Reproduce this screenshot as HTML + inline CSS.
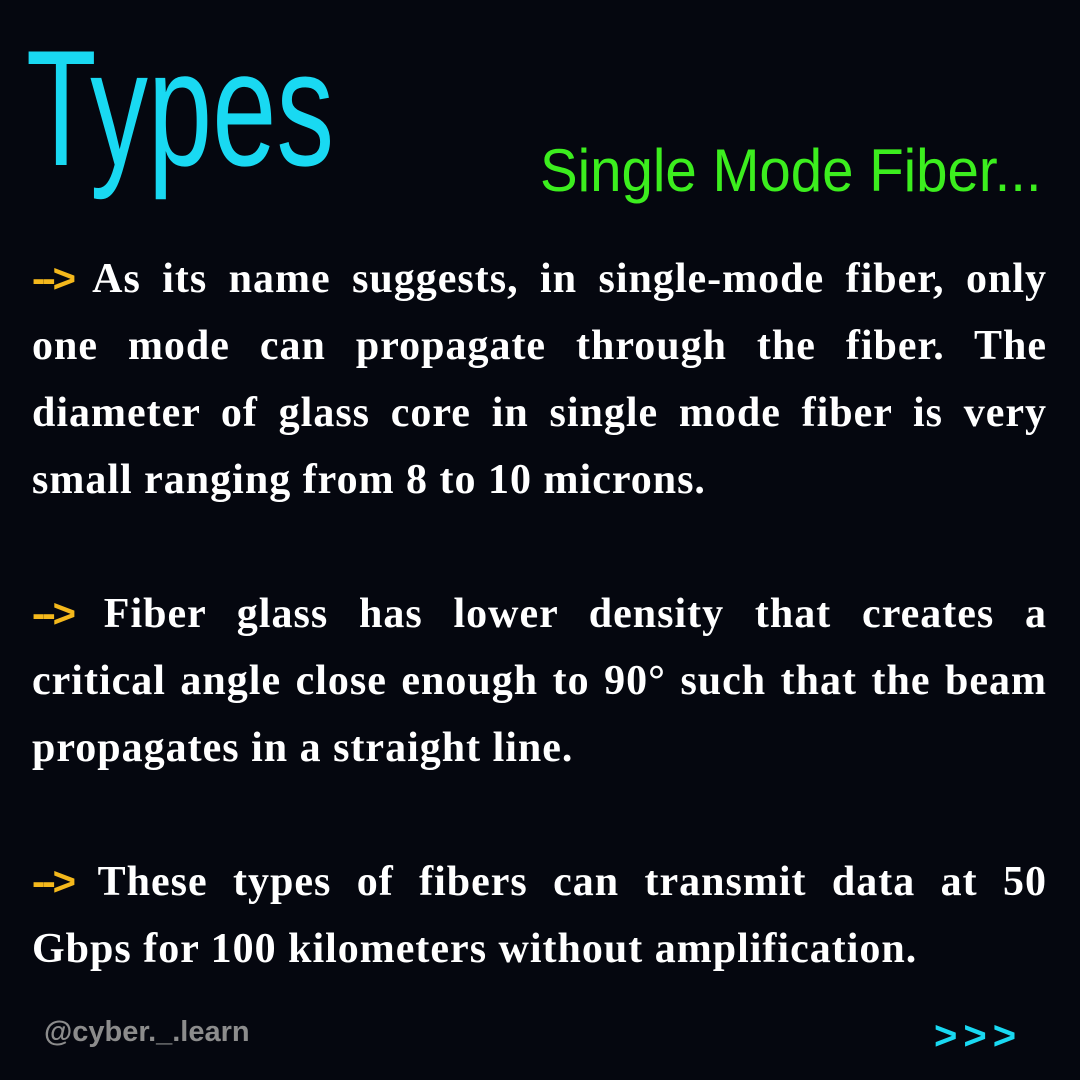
<!DOCTYPE html>
<html><head><meta charset="utf-8"><style>
html,body{margin:0;padding:0;background:#05070f;}
#c{position:relative;width:1080px;height:1080px;background:#05070f;overflow:hidden;}
.t{position:absolute;left:26px;top:14px;font-family:"Liberation Sans",sans-serif;font-size:165px;color:#19d9f2;transform:scaleX(0.70);transform-origin:left top;white-space:nowrap;}
.s{position:absolute;left:540px;top:136px;font-family:"Liberation Sans",sans-serif;font-size:60px;color:#3cee1e;transform:scaleX(0.94);transform-origin:left top;white-space:nowrap;}
.l{position:absolute;left:32px;width:1015px;font-family:"Liberation Serif",serif;font-weight:bold;font-size:42px;line-height:42px;letter-spacing:1px;color:#fff;white-space:nowrap;}
.j{text-align:justify;text-align-last:justify;white-space:normal;}
.a{color:#f4b81c;font-family:"Liberation Sans",sans-serif;font-weight:bold;font-size:40px;letter-spacing:-3px;}
.f{position:absolute;left:44px;top:1016px;font-family:"Liberation Sans",sans-serif;font-weight:bold;font-size:29px;color:#8c8c8c;}
.g{position:absolute;left:934px;top:1014px;font-family:"Liberation Sans",sans-serif;font-weight:bold;font-size:40px;color:#19d9f2;letter-spacing:6px;}
</style></head><body><div id="c">
<div class="t">Types</div>
<div class="s">Single Mode Fiber...</div>
<div class="l j" style="top:258px"><span class="a">--&gt;</span> As its name suggests, in single-mode fiber, only</div>
<div class="l j" style="top:325px">one mode can propagate through the fiber. The</div>
<div class="l j" style="top:392px">diameter of glass core in single mode fiber is very</div>
<div class="l" style="top:459px">small ranging from 8 to 10 microns.</div>
<div class="l j" style="top:593px"><span class="a">--&gt;</span> Fiber glass has lower density that creates a</div>
<div class="l j" style="top:660px">critical angle close enough to 90° such that the beam</div>
<div class="l" style="top:727px">propagates in a straight line.</div>
<div class="l j" style="top:861px"><span class="a">--&gt;</span> These types of fibers can transmit data at 50</div>
<div class="l" style="top:928px">Gbps for 100 kilometers without amplification.</div>
<div class="f">@cyber._.learn</div>
<div class="g">&gt;&gt;&gt;</div>
</div></body></html>
